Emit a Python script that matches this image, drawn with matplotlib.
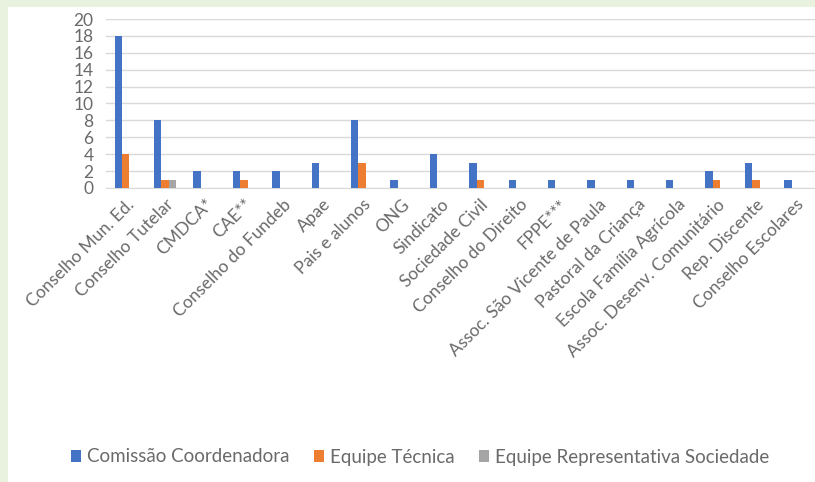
import matplotlib
matplotlib.use("Agg")
import matplotlib.pyplot as plt
import numpy as np
from matplotlib.patches import Rectangle

categories = ["Conselho Mun. Ed.", "Conselho Tutelar", "CMDCA*", "CAE**", "Conselho do Fundeb",
              "Apae", "Pais e alunos", "ONG", "Sindicato", "Sociedade Civil", "Conselho do Direito",
              "FPPE***", "Assoc. São Vicente de Paula", "Pastoral da Criança",
              "Escola Família Agrícola", "Assoc. Desenv. Comunitário", "Rep. Discente",
              "Conselho Escolares"]
comissao = [18, 8, 2, 2, 2, 3, 8, 1, 4, 3, 1, 1, 1, 1, 1, 2, 3, 1]
equipe_tecnica = [4, 1, 0, 1, 0, 0, 3, 0, 0, 1, 0, 0, 0, 0, 0, 1, 1, 0]
equipe_rep = [0, 1, 0, 0, 0, 0, 0, 0, 0, 0, 0, 0, 0, 0, 0, 0, 0, 0]
series_names = ["Comissão Coordenadora", "Equipe Técnica", "Equipe Representativa Sociedade"]
colors = ["#4472C4", "#ED7D31", "#A5A5A5"]
yticks = [0, 2, 4, 6, 8, 10, 12, 14, 16, 18, 20]

W, H = 815, 482
fig = plt.figure(figsize=(W / 100, H / 100), dpi=100)
fig.patch.set_facecolor("#E9F1DF")
# white panel
panel = Rectangle((8 / W, 0), 1, 1 - 7 / H, transform=fig.transFigure,
                  facecolor="white", edgecolor="none", zorder=-5)
fig.patches.append(panel)

ax = fig.add_axes([106 / W, 1 - 188 / H, (W - 106) / W, (188 - 19) / H])
ax.set_zorder(2)
ax.set_facecolor("none")
x = np.arange(len(categories))
bw = 0.187
for i, (vals, name, c) in enumerate(zip([comissao, equipe_tecnica, equipe_rep], series_names, colors)):
    ax.bar(x + (i - 1) * bw, vals, width=bw, color=c, label=name, zorder=3)

ax.set_xlim(-0.5, len(categories) - 0.5)
ax.set_ylim(0, 20)
ax.set_yticks(yticks)
ax.grid(axis="y", color="#D9D9D9", linewidth=1, zorder=0)
for s in ["top", "right", "left"]:
    ax.spines[s].set_visible(False)
ax.spines["bottom"].set_color("#D9D9D9")
ax.tick_params(axis="both", length=0, colors="#6A6A6A")
ax.tick_params(axis="y", pad=9)
for lab in ax.get_yticklabels():
    lab.set_fontsize(12.5)
    lab.set_family(["Lato", "DejaVu Sans"])
ax.set_xticks(x)
ax.set_xticklabels(categories, rotation=45, ha="right", rotation_mode="anchor",
                   fontsize=12.5, family=["Lato", "DejaVu Sans"], color="#6A6A6A")
ax.tick_params(axis="x", pad=6)

handles, labels = ax.get_legend_handles_labels()
fig.legend(handles, labels, loc="center", bbox_to_anchor=(420 / W, 1 - 457 / H), ncol=3,
           frameon=False, handlelength=0.55, handleheight=0.55, handletextpad=0.3,
           columnspacing=1.3, prop={"family": ["Lato", "DejaVu Sans"], "size": 13.5},
           labelcolor="#6A6A6A")

fig.savefig("out.png", dpi=100, facecolor=fig.get_facecolor())
